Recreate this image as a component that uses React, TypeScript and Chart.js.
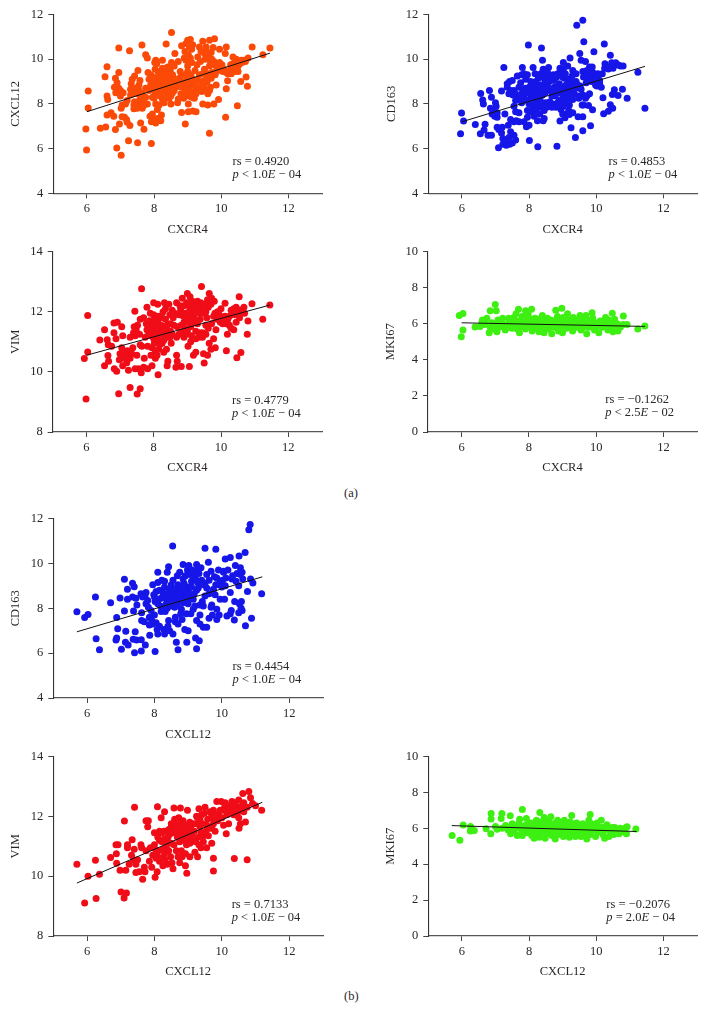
import React, { useEffect, useRef } from "react";
import { Chart, registerables } from "chart.js";

Chart.register(...registerables);

const FONT = '"Liberation Serif", "Times New Roman", serif';
const INK = "#2a2627";

const xTicks = [6, 8, 10, 12];
const yTicks4to12 = [4, 6, 8, 10, 12];
const yTicks8to14 = [8, 10, 12, 14];
const yTicks0to10 = [0, 2, 4, 6, 8, 10];

const cxcl12VsCxcr4 = [
  [5.97,6.88],[5.99,5.94],[6.04,8.58],[6.04,7.82],[6.4,6.91],[6.56,6.97],[6.6,9.66],[6.54,9.22],[6.95,10.5],[7.27,10.38],[7.64,10.63],[8.52,11.19],[8.36,10.68],[6.89,6.03],[7.02,5.7],[7.24,6.35],[7.51,6.26],[7.92,6.23],[6.85,6.86],[7.7,6.87],[8.93,7.1],[9.65,6.69],[10.13,7.4],[10.48,7.92],[10.78,8.79],[10.74,9.2],[10.58,9.0],[10.92,10.55],[11.24,10.2],[11.45,10.5],[10.15,8.68],[10.19,9.04],[10.15,10.55],[9.76,10.52],
  [6.6,8.35],[6.62,8.2],[6.6,7.5],[6.72,7.6],[6.8,7.45],[6.85,9.15],[6.9,8.95],[6.82,8.75],[6.86,8.5],[6.95,8.7],[7.0,8.6],[7.0,8.35],[7.08,8.5],[6.95,9.4],[7.02,7.8],[7.05,7.95],[7.05,7.42],[7.12,7.4],[7.18,7.3],[6.97,7.1],[7.2,7.18],[7.28,7.03],[7.2,8.15],[7.3,8.4],[7.35,8.45],[7.32,8.9],[7.35,9.1],[7.42,9.25],[7.52,9.5],[7.45,8.7],[7.42,8.1],[7.4,7.95],[7.4,7.78],[7.5,7.8],[7.55,8.0],[7.58,8.2],[7.5,8.45],[7.55,8.6],[7.58,9.05],[7.6,7.15],[7.65,7.8],[7.7,7.95],[7.68,8.1],[7.75,8.7],[7.8,8.0],[7.82,9.4],[7.75,10.2],[7.8,10.05],[7.9,9.3],[7.9,8.85],[7.95,8.95],[7.95,8.3],[7.95,7.55],
  [7.88,7.45],[7.92,7.2],[8.0,7.3],[8.05,7.15],[8.1,7.35],[8.2,7.25],[8.22,7.5],[8.1,7.75],[8.05,8.0],[8.15,7.95],[8.0,8.25],[8.1,8.5],[8.0,8.7],[8.05,9.0],[8.03,9.55],[8.02,9.85],[8.08,9.8],[8.05,9.95],[8.15,9.25],[8.2,8.9],[8.25,8.55],[8.25,8.2],[8.3,8.05],[8.35,8.3],[8.3,8.6],[8.3,9.05],[8.3,9.3],[8.25,9.6],[8.25,9.95],[8.4,9.65],[8.4,9.4],[8.42,9.15],[8.42,8.8],[8.45,8.55],[8.45,8.25],[8.5,8.0],[8.52,9.85],[8.55,9.3],[8.55,9.0],[8.6,8.6],[8.62,10.25],[8.7,8.05],[8.72,8.22],[8.72,8.78],[8.75,9.15],[8.72,9.9],[8.82,10.6],[8.82,9.3],[8.82,7.62],[8.9,8.4],[8.9,8.9],[8.95,9.3],[8.95,9.95],[8.9,10.05],[8.95,10.7],[9.0,10.85],[9.08,10.88],[9.05,10.55],[9.02,10.2],[9.0,9.7],[9.0,8.7],[9.02,8.0],[9.02,7.65],[9.05,8.45],[9.1,9.0],[9.1,9.3],[9.12,9.85],[9.12,10.45],[9.15,7.68],[9.25,7.65],[9.2,8.25],[9.22,8.55],[9.25,8.75],[9.28,9.75],[9.3,10.1],[9.35,10.55],[9.4,8.8],[9.42,8.55],[9.45,8.0],[9.45,10.8],[9.5,10.25],[9.5,9.55],[9.55,9.2],[9.55,10.4],[9.6,8.45],[9.6,7.95],[9.65,8.6],[9.68,8.75],[9.68,9.9],[9.65,10.85],[9.7,10.3],[9.72,9.4],[9.78,8.0],[9.8,10.92],[9.8,9.75],[9.85,8.85],[9.88,9.6],[9.92,8.2],[9.95,10.45],[10.0,9.5],[10.05,9.45],[10.12,10.25],[10.15,9.4],[10.25,9.5],[10.3,9.35],[10.28,9.75],[10.35,9.8],[10.35,10.1],[10.42,9.95],[10.45,10.0],[10.45,9.65],[10.5,9.45],[10.55,9.8],[10.62,9.85],[10.68,9.95],[10.8,10.05],[10.72,9.9],
  [7.3,8.65],[7.15,8.0],[7.55,8.85],[7.65,8.45],[7.75,8.3],[7.85,8.6],[7.85,9.1],[7.98,9.2],[8.02,8.55],[8.08,8.8],[8.12,9.1],[8.12,9.45],[8.18,8.65],[8.18,8.35],[8.22,9.15],[8.28,9.45],[8.28,8.75],[8.35,8.9],[8.35,9.2],[8.35,9.5],[8.38,8.6],[8.4,8.45],[8.45,9.0],[8.45,9.25],[8.48,9.5],[8.5,8.7],[8.5,8.35],[8.55,8.5],[8.58,9.15],[8.6,9.7],[8.65,8.85],[8.68,9.05],[8.78,9.45],[8.8,8.45],[8.85,8.75],[8.85,9.0],[8.88,8.25],[8.92,8.55],[8.92,10.35],[8.98,9.05],[8.98,8.35],[9.0,9.45],[9.05,8.85],[9.05,9.95],[9.08,10.05],[9.1,8.55],[9.12,8.3],[9.15,10.65],[9.15,9.1],[9.18,8.85],[9.22,9.5],[9.25,8.45],[9.28,9.05],[9.32,8.6],[9.35,9.3],[9.38,9.9],[9.4,10.35],[9.42,9.0],[9.45,9.35],[9.48,8.7],[9.5,8.9],[9.52,10.0],[9.55,10.55],[9.58,9.0],[9.6,9.35],[9.62,10.15],[9.65,9.7],[9.7,9.15],[9.72,10.0],[9.78,9.9],[9.82,9.3],[9.85,9.45],[9.9,9.55],[9.95,9.85],[10.02,9.75],[10.08,9.55],[10.2,9.35],[10.3,9.55],[10.38,9.65],[10.4,9.45],[10.5,9.7],[10.6,9.95]
];

const cd163VsCxcr4 = [
  [5.96,6.67],[5.99,7.59],[6.05,7.23],[6.4,7.08],[6.56,8.46],[6.55,6.67],[6.64,8.0],[6.62,8.18],[6.82,8.6],[6.69,7.09],[6.66,6.83],[6.78,6.6],[6.88,6.6],[6.88,8.3],[7.18,8.58],[7.25,9.63],[7.09,6.04],[7.98,10.64],[8.37,10.5],[8.4,9.95],[8.01,6.36],[8.26,6.08],[8.83,6.1],[9.25,6.93],[9.38,6.5],[9.6,6.8],[9.83,7.02],[9.42,11.52],[9.6,11.74],[9.63,10.78],[9.51,10.26],[9.93,10.33],[10.24,10.68],[10.42,10.18],[11.24,9.42],[11.45,7.81],[10.92,8.25],[10.78,8.65],[10.65,8.38],[10.54,8.63],[10.48,8.42],[10.2,8.27],[10.49,7.81],[10.42,7.96],[10.36,7.67],[10.22,7.56],[9.89,7.74],[9.77,7.93],[9.6,7.43],[9.46,7.43],[9.2,7.53],[9.07,7.38],[8.92,7.24],[10.26,9.8],[10.25,9.6],[10.46,9.84],[10.58,9.84],[10.66,9.74],[10.8,9.7],[10.36,9.56],
  [6.85,7.8],[6.9,7.55],[6.95,7.7],[7.0,8.05],[7.02,7.9],[7.05,7.4],[6.98,7.45],[7.05,6.95],[7.1,6.85],[7.2,6.95],[7.18,6.7],[7.22,6.45],[7.22,6.2],[7.32,6.15],[7.42,6.2],[7.5,6.25],[7.6,6.38],[7.55,6.6],[7.45,6.75],[7.38,7.05],[7.45,7.3],[7.55,7.2],[7.28,7.55],[7.35,8.9],[7.42,9.0],[7.5,9.05],[7.45,8.6],[7.52,8.4],[7.6,8.15],[7.55,7.9],[7.6,7.65],[7.7,7.6],[7.7,7.2],[7.65,8.3],[7.7,8.75],[7.65,9.25],[7.78,9.3],[7.8,9.63],[7.85,9.35],[7.9,9.1],[7.8,8.5],[7.78,8.05],[7.85,7.2],[7.92,6.98],[7.95,7.4],[8.0,7.05],[7.95,7.7],[8.0,8.0],[8.05,8.35],[7.92,8.5],[8.0,8.75],[8.05,9.0],[8.12,9.63],[8.18,9.35],[8.2,9.0],[8.15,8.65],[8.2,8.4],[8.12,7.9],[8.2,7.7],[8.15,7.45],[8.25,7.25],[8.32,7.55],[8.35,7.85],[8.32,8.25],[8.32,8.55],[8.35,8.85],[8.38,9.2],[8.42,9.55],[8.5,9.25],[8.5,8.9],[8.48,8.5],[8.5,8.05],[8.45,7.7],[8.45,7.35],[8.58,9.63],[8.6,9.0],[8.6,8.6],[8.68,8.35],[8.7,8.0],[8.72,9.3],[8.75,8.75],[8.8,7.85],[8.85,9.35],[8.9,8.9],[8.9,8.5],[8.9,8.15],[8.95,9.3],[8.95,7.75],[9.02,9.85],[9.02,9.55],[9.05,9.15],[9.05,8.75],[9.02,8.3],[9.05,8.0],[9.12,7.55],[9.15,9.7],[9.15,8.6],[9.18,8.25],[9.2,7.95],[9.2,9.1],[9.22,10.05],[9.3,9.5],[9.3,8.95],[9.3,7.6],[9.38,8.7],[9.4,9.35],[9.48,8.25],[9.52,8.8],[9.55,9.95],[9.6,9.45],[9.6,8.4],[9.62,7.95],[9.68,9.9],[9.7,8.95],[9.72,8.35],[9.75,9.25],[9.8,9.65],[9.82,9.3],[9.85,9.0],[9.88,9.65],[9.9,9.4],[9.98,8.85],[10.05,9.35],[10.1,8.95],[10.1,9.05],[10.15,8.75],
  [7.05,7.6],[7.15,6.9],[7.3,6.3],[7.4,6.5],[7.35,8.75],[7.4,8.45],[7.55,8.6],[7.6,8.45],[7.62,7.25],[7.72,8.25],[7.75,8.95],[7.85,8.25],[7.88,8.7],[7.95,8.15],[7.95,9.3],[8.02,8.5],[8.05,7.65],[8.08,7.95],[8.1,8.45],[8.12,8.25],[8.15,8.8],[8.18,8.1],[8.22,8.55],[8.25,8.0],[8.25,8.75],[8.28,8.4],[8.28,9.15],[8.3,7.95],[8.35,9.35],[8.4,8.4],[8.4,8.05],[8.42,7.25],[8.45,8.7],[8.48,9.0],[8.52,7.85],[8.55,8.8],[8.55,9.4],[8.62,8.1],[8.65,9.25],[8.68,7.85],[8.72,8.55],[8.75,9.05],[8.78,8.35],[8.82,9.2],[8.82,8.65],[8.85,8.05],[8.88,7.95],[8.92,9.6],[8.95,8.65],[8.98,8.45],[9.0,9.2],[9.0,7.55],[9.02,7.9],[9.05,8.5],[9.08,9.35],[9.1,8.85],[9.1,8.15],[9.12,8.4],[9.15,8.9],[9.18,7.7],[9.22,8.5],[9.25,8.75],[9.28,9.25],[9.3,8.2],[9.35,8.45],[9.4,9.0],[9.45,8.85],[9.5,8.35],[9.55,8.65],[9.58,7.95],[9.62,9.2],[9.68,8.25],[9.72,9.5],[9.78,9.1],[9.8,8.45],[9.85,9.45],[9.92,9.2],[10.0,9.1],[10.02,8.8],[10.08,9.3],[10.18,9.35],[10.35,9.65],[10.5,9.6],[10.72,9.7]
];

const vimVsCxcr4 = [
  [5.94,10.44],[5.99,9.1],[6.04,11.87],[6.04,10.66],[6.4,11.06],[6.54,11.4],[6.54,10.2],[6.62,11.07],[6.64,10.54],[6.66,10.35],[6.83,10.1],[6.9,10.02],[6.96,9.27],[7.3,9.48],[7.6,9.44],[7.51,9.26],[7.63,9.97],[7.64,12.76],[7.44,12.01],[8.13,9.9],[9.42,12.84],[10.54,12.5],[10.92,12.26],[11.45,12.22],[11.24,11.75],[10.8,11.69],[10.78,11.25],[10.59,10.64],[10.47,10.47],[10.16,10.7],[10.19,11.25],[9.83,10.8],[9.5,10.29],[9.06,10.18],[8.82,10.18],[8.66,10.15],[8.4,10.2],[10.12,12.28],
  [6.65,10.9],[6.75,10.85],[6.82,11.3],[6.82,11.62],[6.92,11.65],[6.88,11.1],[6.98,10.4],[7.05,11.5],[7.05,10.8],[7.08,11.2],[7.1,10.55],[7.08,10.2],[7.18,10.45],[7.2,10.3],[7.25,10.05],[7.25,10.55],[7.3,11.15],[7.38,10.8],[7.35,10.6],[7.4,11.3],[7.42,11.5],[7.45,10.1],[7.5,10.55],[7.52,11.55],[7.55,10.1],[7.58,11.25],[7.6,11.75],[7.65,10.85],[7.7,11.8],[7.7,10.15],[7.72,10.45],[7.8,11.4],[7.82,10.85],[7.8,12.15],[7.82,10.1],[7.9,11.5],[7.9,11.95],[7.92,11.2],[7.95,10.2],[7.92,10.55],[8.0,12.3],[8.0,11.9],[8.0,11.35],[8.02,10.95],[8.05,10.45],[8.1,11.1],[8.12,12.25],[8.12,11.65],[8.15,10.75],[8.18,11.4],[8.2,11.0],[8.25,11.8],[8.28,11.25],[8.3,10.65],[8.32,12.3],[8.35,12.1],[8.35,11.45],[8.4,11.15],[8.42,10.35],[8.45,12.25],[8.48,11.9],[8.5,11.35],[8.52,10.95],[8.55,12.05],[8.6,11.55],[8.68,12.3],[8.68,11.15],[8.68,10.55],[8.7,10.35],[8.75,11.9],[8.8,12.05],[8.82,11.3],[8.85,12.45],[8.9,11.65],[8.9,11.15],[8.95,11.25],[9.0,12.6],[9.0,11.8],[9.02,10.85],[9.05,12.2],[9.08,12.5],[9.1,11.5],[9.1,11.0],[9.15,12.35],[9.18,11.85],[9.18,10.55],[9.22,12.05],[9.25,10.65],[9.25,11.35],[9.3,12.35],[9.35,11.15],[9.35,11.95],[9.42,12.1],[9.45,11.3],[9.48,10.6],[9.55,12.0],[9.55,11.55],[9.6,12.4],[9.6,10.55],[9.62,11.45],[9.65,10.95],[9.65,12.6],[9.7,10.75],[9.72,12.45],[9.78,11.1],[9.8,12.35],[9.82,11.95],[9.85,11.4],[9.9,12.0],[9.98,11.65],[10.0,12.1],[10.05,11.6],[10.12,11.85],[10.2,11.75],[10.25,11.55],[10.3,12.05],[10.3,11.45],[10.38,11.4],[10.45,12.15],[10.45,11.65],[10.52,11.95],[10.58,12.05],[10.68,12.15],[10.7,11.95],
  [7.0,10.6],[7.05,10.45],[7.15,10.6],[7.22,10.7],[7.3,10.45],[7.45,11.2],[7.48,11.4],[7.6,10.9],[7.75,11.15],[7.78,11.6],[7.85,11.3],[7.88,11.7],[7.95,10.8],[7.98,11.55],[8.0,11.1],[8.02,11.75],[8.05,10.7],[8.08,11.25],[8.1,10.55],[8.1,11.45],[8.15,11.05],[8.15,11.85],[8.18,10.9],[8.2,11.25],[8.22,11.55],[8.25,10.95],[8.28,12.0],[8.3,11.05],[8.32,11.35],[8.35,11.75],[8.38,10.75],[8.4,11.55],[8.42,11.25],[8.48,11.15],[8.5,11.6],[8.55,11.25],[8.58,11.8],[8.62,11.95],[8.7,11.5],[8.75,11.25],[8.78,12.2],[8.82,11.55],[8.88,11.85],[8.9,12.2],[8.92,11.45],[8.95,11.95],[8.98,12.3],[9.0,11.35],[9.02,11.65],[9.05,12.0],[9.08,11.75],[9.12,11.2],[9.15,11.65],[9.18,12.15],[9.22,11.75],[9.25,11.1],[9.28,12.2],[9.3,11.6],[9.35,11.3],[9.38,11.75],[9.4,12.3],[9.45,11.15],[9.48,11.95],[9.52,12.25],[9.55,11.25],[9.58,11.8],[9.62,12.15],[9.7,12.25],[9.72,11.6],[9.78,11.85],[9.88,11.75],[9.95,11.9],[10.08,11.75],[10.15,11.6],[10.25,11.85],[10.38,12.1],[10.4,11.9],[10.55,11.8]
];

const mki67VsCxcr4 = [
  [5.93,6.46],[6.04,6.57],[6.04,5.65],[5.99,5.28],[6.4,5.82],[7.0,7.06],[6.85,6.72],[7.03,6.72],[7.69,6.8],[7.9,6.72],[8.08,6.8],[8.8,6.75],[8.98,6.85],[9.88,6.6],[10.48,6.58],[10.81,6.42],[11.24,5.7],[11.45,5.87],[10.92,5.96],
  [6.55,5.85],[6.6,6.05],[6.62,6.2],[6.68,5.95],[6.75,6.3],[6.82,5.5],[6.85,5.8],[6.9,6.05],[6.92,5.7],[7.0,5.95],[7.05,5.55],[7.08,6.2],[7.12,5.8],[7.2,6.05],[7.22,6.3],[7.3,5.65],[7.35,5.95],[7.4,6.3],[7.45,6.1],[7.5,5.75],[7.55,6.35],[7.6,5.9],[7.62,6.55],[7.7,6.15],[7.72,5.5],[7.78,5.85],[7.8,6.4],[7.85,6.1],[7.9,5.7],[7.92,6.0],[7.98,6.5],[8.02,5.85],[8.05,6.25],[8.1,5.6],[8.12,6.05],[8.18,6.3],[8.22,5.75],[8.28,6.0],[8.3,5.55],[8.35,6.2],[8.4,6.45],[8.42,5.85],[8.45,5.5],[8.5,6.1],[8.55,6.3],[8.58,5.7],[8.62,5.95],[8.68,5.45],[8.72,6.15],[8.75,5.8],[8.8,6.05],[8.85,6.4],[8.88,5.6],[8.92,6.2],[8.95,5.85],[9.0,5.5],[9.02,6.35],[9.08,6.05],[9.12,5.75],[9.15,6.55],[9.2,6.2],[9.25,5.9],[9.3,5.6],[9.32,6.35],[9.38,6.05],[9.42,5.8],[9.48,6.2],[9.52,6.45],[9.55,5.65],[9.6,5.95],[9.65,6.25],[9.7,6.45],[9.72,5.45],[9.78,5.8],[9.82,6.1],[9.88,5.95],[9.9,6.3],[9.95,5.65],[10.0,5.85],[10.08,5.5],[10.12,6.15],[10.18,5.8],[10.25,5.95],[10.28,6.35],[10.35,5.65],[10.38,6.2],[10.42,5.85],[10.5,5.55],[10.55,6.25],[10.55,5.9],[10.65,5.6],[10.72,5.8],[10.8,5.95],
  [6.7,6.1],[6.95,5.85],[7.15,6.1],[7.28,5.85],[7.42,5.8],[7.58,6.1],[7.65,5.7],[7.75,6.05],[7.82,5.95],[7.88,6.25],[7.95,5.85],[8.0,6.15],[8.08,5.95],[8.15,5.85],[8.2,6.1],[8.25,6.25],[8.32,5.85],[8.38,6.05],[8.45,6.2],[8.48,5.85],[8.52,5.95],[8.6,6.15],[8.65,6.2],[8.7,5.85],[8.78,5.95],[8.82,5.8],[8.9,6.0],[8.98,6.1],[9.05,5.9],[9.1,6.25],[9.18,5.95],[9.22,6.05],[9.28,6.2],[9.35,5.85],[9.4,6.2],[9.45,5.95],[9.55,6.1],[9.62,5.8],[9.68,6.05],[9.75,6.2],[9.85,5.85],[9.92,6.05],[10.05,6.05],[10.15,5.95],[10.22,6.15],[10.32,5.9],[10.45,6.1],[10.62,6.0]
];

const cd163VsCxcl12 = [
  [5.7,7.84],[5.93,7.59],[6.03,7.72],[6.25,8.5],[6.27,6.64],[6.37,6.15],[6.7,8.24],[6.88,7.59],[6.91,7.09],[6.88,6.67],[6.86,6.58],[6.98,8.46],[7.11,9.29],[7.11,7.88],[7.15,6.97],[7.02,6.17],[7.14,6.48],[7.22,6.36],[7.2,8.85],[7.2,8.4],[7.35,9.11],[7.4,8.96],[7.38,7.88],[7.43,6.95],[7.37,6.62],[7.47,6.58],[7.41,6.02],[7.61,6.6],[7.61,6.1],[7.73,6.36],[8.02,6.07],[7.86,6.8],[8.7,6.15],[8.65,6.49],[8.96,6.49],[9.25,6.2],[9.22,6.67],[9.33,6.55],[8.54,10.77],[9.5,10.67],[9.82,10.63],[10.1,10.2],[10.25,10.26],[10.51,10.33],[10.69,10.48],[10.8,11.5],[10.84,11.73],[11.18,8.65],[10.92,9.13],[10.88,7.55],[10.7,7.22],[10.37,7.48],[10.76,8.75],[10.57,8.0],
  [7.35,8.5],[7.45,8.45],[7.48,8.15],[7.6,8.65],[7.62,7.8],[7.62,7.45],[7.7,7.4],[7.72,8.55],[7.75,8.7],[7.75,8.2],[7.8,8.35],[7.85,7.6],[7.85,7.25],[7.92,7.45],[7.9,7.9],[7.95,9.05],[7.98,8.6],[8.0,7.7],[8.02,8.3],[8.05,7.35],[8.08,7.05],[8.1,6.85],[8.1,9.15],[8.1,9.6],[8.15,8.8],[8.18,8.1],[8.2,8.45],[8.22,9.25],[8.3,9.2],[8.28,7.05],[8.3,6.85],[8.32,7.85],[8.35,8.2],[8.38,8.65],[8.38,9.6],[8.42,9.85],[8.42,7.45],[8.45,7.0],[8.5,9.05],[8.52,8.4],[8.55,8.75],[8.55,6.85],[8.6,8.05],[8.62,7.6],[8.65,8.35],[8.68,9.45],[8.7,8.9],[8.7,7.3],[8.75,9.6],[8.78,8.55],[8.8,7.95],[8.82,7.5],[8.85,9.3],[8.85,8.25],[8.85,9.95],[8.9,8.7],[8.9,7.05],[8.95,7.75],[8.98,9.7],[9.0,8.95],[9.0,7.0],[9.02,9.9],[9.05,8.45],[9.1,9.2],[9.15,7.95],[9.18,8.65],[9.22,9.3],[9.25,9.95],[9.25,7.45],[9.3,8.9],[9.32,9.55],[9.35,7.3],[9.35,7.7],[9.38,9.8],[9.42,8.3],[9.45,7.15],[9.45,8.1],[9.5,9.1],[9.55,7.15],[9.55,9.5],[9.6,10.05],[9.62,8.65],[9.62,7.55],[9.68,9.65],[9.7,8.15],[9.72,7.7],[9.78,9.4],[9.8,8.6],[9.82,9.05],[9.85,7.95],[9.85,7.5],[9.9,9.7],[9.92,7.7],[9.95,9.15],[9.95,8.4],[10.05,9.6],[10.08,8.4],[10.1,9.0],[10.15,7.65],[10.18,9.7],[10.25,8.7],[10.25,7.75],[10.28,7.9],[10.32,9.45],[10.38,8.3],[10.4,9.9],[10.45,9.55],[10.5,9.0],[10.5,7.8],[10.52,8.2],[10.55,9.8],[10.55,9.5],[10.58,8.3],[10.6,7.9],[10.62,9.3],[10.85,9.3],
  [7.65,8.5],[7.82,8.05],[7.95,7.3],[8.0,8.5],[8.05,8.75],[8.1,8.2],[8.12,8.4],[8.15,7.2],[8.2,7.85],[8.25,8.7],[8.28,8.05],[8.3,8.95],[8.35,8.45],[8.38,8.0],[8.4,7.2],[8.42,8.55],[8.45,8.3],[8.45,8.85],[8.48,8.1],[8.52,8.65],[8.55,8.25],[8.55,9.25],[8.58,8.45],[8.6,8.85],[8.62,7.4],[8.65,8.6],[8.68,8.15],[8.7,9.05],[8.72,8.45],[8.75,8.7],[8.78,7.75],[8.8,8.3],[8.82,8.85],[8.85,8.5],[8.88,9.1],[8.9,8.3],[8.92,9.45],[8.95,8.55],[9.0,8.2],[9.02,8.7],[9.05,9.5],[9.08,7.75],[9.1,8.95],[9.12,9.7],[9.15,8.4],[9.18,9.35],[9.2,8.1],[9.22,9.6],[9.25,8.8],[9.28,9.15],[9.3,9.8],[9.35,8.15],[9.4,9.25],[9.45,9.05],[9.5,8.55],[9.55,8.9],[9.62,9.25],[9.68,8.05],[9.75,8.85],[9.85,9.35],[9.92,9.05],[10.0,8.95],[10.02,9.25],[10.05,9.65],[10.12,9.35],[10.3,9.3],[10.42,9.2],[10.6,9.6]
];

const vimVsCxcl12 = [
  [5.7,10.4],[5.93,9.1],[6.03,10.0],[6.25,10.53],[6.27,9.25],[6.37,10.06],[6.7,10.62],[6.87,10.75],[6.86,11.05],[6.92,11.05],[6.88,10.43],[6.98,10.2],[7.01,9.47],[7.17,9.44],[7.1,9.27],[7.11,11.84],[7.15,10.2],[7.2,11.05],[7.2,10.95],[7.34,11.22],[7.41,12.3],[7.45,10.12],[7.65,9.9],[8.02,9.96],[8.09,12.32],[8.3,12.15],[8.2,11.95],[8.58,12.28],[8.77,12.28],[8.98,12.2],[8.96,10.1],[9.75,10.6],[9.75,10.17],[10.37,10.59],[10.75,10.55],[11.18,12.2],[10.8,12.83],[10.62,12.76],[10.91,12.43],[10.85,12.62],[10.13,11.42],[10.7,11.81],[10.51,11.6],
  [7.25,10.4],[7.32,10.7],[7.38,10.55],[7.4,10.9],[7.45,10.4],[7.5,10.55],[7.55,10.15],[7.6,11.05],[7.62,10.95],[7.7,10.3],[7.72,10.15],[7.75,10.85],[7.75,11.85],[7.82,11.85],[7.8,11.65],[7.85,10.5],[7.88,10.95],[7.92,10.3],[7.95,10.7],[8.0,11.05],[8.0,11.45],[8.05,10.6],[8.08,10.15],[8.1,11.3],[8.12,10.85],[8.15,10.5],[8.15,11.5],[8.22,11.15],[8.25,10.35],[8.28,11.5],[8.3,10.75],[8.35,10.95],[8.38,10.4],[8.4,11.3],[8.42,11.55],[8.48,10.65],[8.5,11.75],[8.5,11.1],[8.55,10.25],[8.55,11.45],[8.6,11.9],[8.65,10.85],[8.68,11.3],[8.72,11.95],[8.75,10.45],[8.75,11.6],[8.82,10.65],[8.85,11.85],[8.88,11.2],[8.92,10.35],[8.95,11.05],[9.0,11.45],[9.05,11.8],[9.05,10.65],[9.1,11.25],[9.15,11.75],[9.2,10.8],[9.25,12.0],[9.28,10.65],[9.3,11.3],[9.32,12.25],[9.35,11.65],[9.38,10.95],[9.4,12.05],[9.45,11.35],[9.5,12.3],[9.55,11.7],[9.55,10.95],[9.6,11.35],[9.68,12.1],[9.7,11.1],[9.75,11.75],[9.75,12.2],[9.8,11.5],[9.82,12.05],[9.85,12.5],[9.92,12.0],[9.98,12.5],[10.02,12.2],[10.05,11.7],[10.1,12.45],[10.15,12.05],[10.2,11.75],[10.25,12.35],[10.28,12.15],[10.3,12.5],[10.35,12.25],[10.42,12.05],[10.45,12.3],[10.5,11.95],[10.5,12.55],[10.55,12.25],[10.55,11.75],[10.6,12.35],[10.75,12.3],[10.65,12.15],[11.0,12.35],
  [8.05,10.85],[8.1,10.65],[8.15,11.2],[8.2,10.6],[8.22,11.45],[8.25,10.9],[8.3,11.25],[8.32,10.55],[8.35,11.5],[8.38,11.1],[8.42,10.85],[8.45,11.4],[8.48,11.6],[8.52,10.45],[8.55,11.65],[8.58,11.05],[8.62,11.5],[8.65,11.7],[8.7,10.65],[8.72,11.45],[8.75,11.15],[8.78,11.8],[8.8,10.85],[8.82,11.55],[8.85,11.35],[8.9,11.7],[8.92,10.75],[8.95,11.55],[8.98,11.25],[9.02,11.7],[9.05,11.1],[9.1,11.55],[9.12,11.4],[9.18,11.5],[9.22,11.15],[9.25,11.75],[9.28,11.95],[9.32,11.05],[9.35,11.9],[9.38,11.45],[9.42,11.75],[9.45,11.15],[9.48,12.1],[9.52,11.5],[9.58,11.9],[9.62,11.6],[9.65,12.15],[9.7,11.6],[9.72,11.95],[9.78,12.05],[9.88,11.85],[9.95,12.2],[10.0,11.95],[10.08,12.3],[10.12,12.25],[10.22,12.15],[10.35,12.05],[10.4,12.45],[10.48,12.15],[10.65,12.45]
];

const mki67VsCxcl12 = [
  [5.71,5.6],[5.94,5.33],[6.04,6.18],[6.26,6.1],[6.25,5.85],[6.37,5.88],[6.72,5.97],[6.87,6.83],[6.87,6.52],[6.86,5.7],[7.19,6.83],[7.17,6.54],[7.44,6.7],[7.8,7.05],[8.32,6.88],[9.27,6.71],[9.82,6.77],[11.18,5.96],[10.92,6.08],
  [7.0,6.1],[7.05,5.95],[7.2,6.0],[7.3,6.15],[7.38,5.9],[7.45,5.7],[7.5,6.25],[7.6,6.0],[7.65,5.6],[7.7,6.3],[7.72,6.5],[7.78,5.85],[7.8,5.6],[7.88,6.15],[7.92,6.55],[7.95,5.75],[8.0,6.0],[8.05,6.3],[8.08,5.6],[8.12,5.9],[8.15,5.45],[8.18,6.2],[8.22,6.45],[8.25,5.7],[8.3,5.5],[8.32,6.05],[8.35,6.35],[8.4,5.85],[8.45,6.6],[8.48,5.45],[8.5,6.15],[8.55,5.7],[8.58,6.4],[8.6,5.95],[8.65,6.65],[8.68,5.6],[8.72,6.25],[8.75,5.85],[8.78,5.4],[8.82,6.1],[8.85,6.45],[8.9,5.65],[8.92,5.95],[8.98,6.3],[9.02,5.55],[9.05,6.45],[9.1,5.85],[9.15,6.15],[9.2,5.5],[9.22,6.35],[9.28,5.7],[9.32,6.05],[9.38,5.55],[9.42,6.3],[9.48,5.85],[9.52,6.1],[9.55,5.55],[9.6,6.25],[9.65,5.75],[9.7,6.0],[9.72,5.4],[9.78,6.45],[9.82,5.65],[9.88,5.9],[9.92,6.2],[9.98,5.55],[10.02,6.3],[10.05,5.8],[10.1,6.05],[10.15,6.45],[10.2,5.65],[10.25,5.45],[10.28,5.95],[10.32,6.2],[10.38,5.55],[10.42,5.85],[10.48,6.05],[10.52,5.65],[10.6,5.95],[10.68,5.7],[10.72,6.0],[10.82,5.8],[10.9,5.7],[10.88,6.05],
  [7.42,6.05],[7.55,5.85],[7.68,6.1],[7.85,5.9],[7.98,6.2],[8.02,5.8],[8.1,6.1],[8.15,6.0],[8.22,5.85],[8.28,6.15],[8.35,5.75],[8.42,6.05],[8.45,6.3],[8.5,5.85],[8.55,6.1],[8.6,5.75],[8.62,6.25],[8.68,5.95],[8.72,5.7],[8.78,6.1],[8.8,6.3],[8.85,5.8],[8.88,6.2],[8.95,5.8],[9.0,6.05],[9.05,5.7],[9.1,6.25],[9.15,5.95],[9.18,5.7],[9.25,6.15],[9.3,5.85],[9.35,6.25],[9.4,5.9],[9.45,6.15],[9.5,5.7],[9.55,6.05],[9.62,5.9],[9.68,6.15],[9.75,5.8],[9.8,6.05],[9.85,6.25],[9.95,5.95],[10.0,6.1],[10.08,5.95],[10.18,6.05],[10.22,5.85],[10.35,6.0],[10.45,5.9],[10.55,6.05]
];

const fitCxcl12Cxcr4 = [[6, 7.65], [11.45, 10.27]];
const fitCd163Cxcr4 = [[6, 7.2], [11.45, 9.68]];
const fitVimCxcr4 = [[6, 10.55], [11.45, 12.22]];
const fitMki67Cxcr4 = [[6, 6.05], [11.45, 5.85]];
const fitCd163Cxcl12 = [[5.7, 6.95], [11.2, 9.4]];
const fitVimCxcl12 = [[5.7, 9.77], [11.2, 12.47]];
const fitMki67Cxcl12 = [[5.7, 6.15], [11.2, 5.82]];

const ORANGE = "#fb4a08";
const BLUE = "#1616e8";
const RED = "#f00d18";
const GREEN = "#3df012";

type Panel = {
  points: number[][]; fit: number[][]; color: string;
  xTitle: string; yTitle: string;
  yMin: number; yMax: number; yTicks: number[];
  left: number; right: number; top: number; bottom: number;
  yTitleX: number; xTitleY: number;
  rs: string; pText: [string, string]; noteX: number; noteY: number;
};

const panels: Panel[] = [
  { points: cxcl12VsCxcr4, fit: fitCxcl12Cxcr4, color: ORANGE, xTitle: "CXCR4", yTitle: "CXCL12", yMin: 4, yMax: 12, yTicks: yTicks4to12, left: 53.5, right: 324.5, top: 13.5, bottom: 193.5, yTitleX: 15.7, xTitleY: 229.7, rs: "rs = 0.4920", pText: ["<", "1.0"], noteX: 232.5, noteY: 154.5 },
  { points: cd163VsCxcr4, fit: fitCd163Cxcr4, color: BLUE, xTitle: "CXCR4", yTitle: "CD163", yMin: 4, yMax: 12, yTicks: yTicks4to12, left: 428.5, right: 699.5, top: 13.5, bottom: 193.5, yTitleX: 391.7, xTitleY: 229.7, rs: "rs = 0.4853", pText: ["<", "1.0"], noteX: 608.5, noteY: 154.5 },
  { points: vimVsCxcr4, fit: fitVimCxcr4, color: RED, xTitle: "CXCR4", yTitle: "VIM", yMin: 8, yMax: 14, yTicks: yTicks8to14, left: 52.5, right: 324.5, top: 250.5, bottom: 431.5, yTitleX: 15.3, xTitleY: 467, rs: "rs = 0.4779", pText: ["<", "1.0"], noteX: 232, noteY: 393.5 },
  { points: mki67VsCxcr4, fit: fitMki67Cxcr4, color: GREEN, xTitle: "CXCR4", yTitle: "MKI67", yMin: 0, yMax: 10, yTicks: yTicks0to10, left: 427.5, right: 698.5, top: 250.5, bottom: 431.5, yTitleX: 390, xTitleY: 467, rs: "rs = \u22120.1262", pText: ["<", "2.5"], noteX: 605.3, noteY: 393 },
  { points: cd163VsCxcl12, fit: fitCd163Cxcl12, color: BLUE, xTitle: "CXCL12", yTitle: "CD163", yMin: 4, yMax: 12, yTicks: yTicks4to12, left: 53.5, right: 325.5, top: 517.5, bottom: 697.5, yTitleX: 15.7, xTitleY: 734, rs: "rs = 0.4454", pText: ["<", "1.0"], noteX: 232.5, noteY: 659.5 },
  { points: vimVsCxcl12, fit: fitVimCxcl12, color: RED, xTitle: "CXCL12", yTitle: "VIM", yMin: 8, yMax: 14, yTicks: yTicks8to14, left: 53.5, right: 325.5, top: 755.5, bottom: 935.5, yTitleX: 15.7, xTitleY: 971, rs: "rs = 0.7133", pText: ["<", "1.0"], noteX: 231.7, noteY: 897.5 },
  { points: mki67VsCxcl12, fit: fitMki67Cxcl12, color: GREEN, xTitle: "CXCL12", yTitle: "MKI67", yMin: 0, yMax: 10, yTicks: yTicks0to10, left: 428.5, right: 699.5, top: 755.5, bottom: 935.5, yTitleX: 390.7, xTitleY: 971, rs: "rs = \u22120.2076", pText: ["=", "2.0"], noteX: 606.3, noteY: 897.5 },
];

const exponents = ["04", "04", "04", "02", "04", "04", "04"];

function ScatterPanel({ panel }: { panel: Panel }) {
  const ref = useRef<HTMLCanvasElement>(null);
  const cx = panel.yTitleX - 7.5;
  const cy = panel.top - 12;
  const cw = panel.right + 2 - cx;
  const ch = panel.xTitleY + 7.5 - cy;

  useEffect(() => {
    if (!ref.current) return;
    const tickFont = { family: FONT, size: 12.5 };
    const chart = new Chart(ref.current, {
      type: "scatter",
      data: {
        datasets: [
          {
            data: panel.fit.map(([x, y]) => ({ x, y })),
            showLine: true, borderColor: "#111", borderWidth: 1, pointRadius: 0,
          },
          {
            data: panel.points.map(([x, y]) => ({ x, y })),
            backgroundColor: panel.color, borderColor: panel.color, borderWidth: 0, pointRadius: 3.5,
          },
        ],
      },
      options: {
        animation: false, responsive: false,
        layout: { padding: { top: panel.top - cy, right: cx + cw - panel.right, left: 0, bottom: 0 } },
        plugins: { legend: { display: false }, tooltip: { enabled: false } },
        scales: {
          x: {
            type: "linear", min: 5, max: 13,
            afterBuildTicks: (s: any) => { s.ticks = xTicks.map((value) => ({ value })); },
            afterFit: (s: any) => { s.height = cy + ch - panel.bottom; },
            grid: { drawOnChartArea: false, tickLength: 5, color: "#444" },
            border: { color: "#555", width: 1.3 },
            ticks: { color: INK, font: tickFont, padding: 3, maxRotation: 0, autoSkip: false },
            title: { display: true, text: panel.xTitle, color: INK, font: tickFont, padding: 0 },
          },
          y: {
            type: "linear", min: panel.yMin, max: panel.yMax,
            afterBuildTicks: (s: any) => { s.ticks = panel.yTicks.map((value) => ({ value })); },
            afterFit: (s: any) => { s.width = panel.left - cx; },
            grid: { drawOnChartArea: false, tickLength: 5, color: "#444" },
            border: { color: "#333", width: 1.1 },
            ticks: { color: INK, font: tickFont, padding: 5, autoSkip: false },
            title: { display: true, text: panel.yTitle, color: INK, font: tickFont, padding: 0 },
          },
        },
      },
    } as any);
    return () => chart.destroy();
  }, [panel]);

  return (
    <canvas
      ref={ref}
      width={cw}
      height={ch}
      style={{ position: "absolute", left: cx, top: cy, width: cw, height: ch }}
    />
  );
}

const noteStyle: React.CSSProperties = {
  position: "absolute", font: `12.5px/13px ${FONT}`, color: INK, whiteSpace: "pre",
};

export default function App() {
  return (
    <div style={{ position: "absolute", left: 0, top: 0, width: 708, height: 1023, background: "#fff", overflow: "hidden" }}>
      {panels.map((p, i) => (
        <React.Fragment key={i}>
          <ScatterPanel panel={p} />
          <div style={{ ...noteStyle, left: p.noteX, top: p.noteY }}>
            {p.rs}
            {"\n"}
            <i>p</i> {p.pText[0]} {p.pText[1]}<i>E</i> {"\u2212"} {exponents[i]}
          </div>
        </React.Fragment>
      ))}
      <div style={{ ...noteStyle, left: 344, top: 486.5 }}>(a)</div>
      <div style={{ ...noteStyle, left: 344, top: 990 }}>(b)</div>
    </div>
  );
}
